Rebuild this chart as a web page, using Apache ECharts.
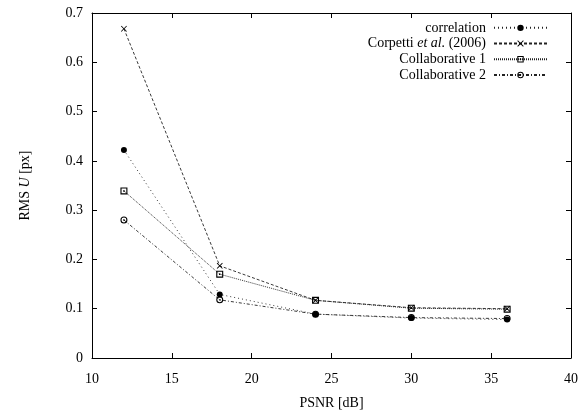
<!DOCTYPE html>
<html>
<head>
<meta charset="utf-8">
<script src="https://cdn.jsdelivr.net/npm/echarts@6/dist/echarts.min.js"></script>
<style>html,body{margin:0;padding:0;background:#fff;}#c{width:579px;height:411px;}</style>
</head>
<body>
<div id="c"></div>
<script>
const psnr = [12, 18, 24, 30, 36];
const correlation = [0.422, 0.129, 0.089, 0.081, 0.078];
const corpetti = [0.668, 0.187, 0.117, 0.102, 0.100];
const collab1 = [0.339, 0.170, 0.117, 0.101, 0.099];
const collab2 = [0.280, 0.118, 0.089, 0.082, 0.080];
const seriesNames = ['correlation', 'Corpetti et al. (2006)', 'Collaborative 1', 'Collaborative 2'];
const xTicks = [10, 15, 20, 25, 30, 35, 40];
const yTicks = [0, 0.1, 0.2, 0.3, 0.4, 0.5, 0.6, 0.7];

const FONT = '"Liberation Serif", "DejaVu Serif", serif';
const FS = 14;
const pairs = ys => psnr.map((x, i) => [x, ys[i]]);

const SYM_X = 'path://M0 1 L1 0 L5 4 L9 0 L10 1 L6 5 L10 9 L9 10 L5 6 L1 10 L0 9 L4 5 Z';
const SYM_SQ = 'path://M0 0 L10 0 L10 10 L0 10 Z M1.6 1.6 L1.6 8.4 L8.4 8.4 L8.4 1.6 Z M3.9 3.9 L6.1 3.9 L6.1 6.1 L3.9 6.1 Z';
const SYM_CI = 'path://M5 0 A5 5 0 0 1 10 5 A5 5 0 0 1 5 10 A5 5 0 0 1 0 5 A5 5 0 0 1 5 0 Z M5 1.5 A3.5 3.5 0 0 0 1.5 5 A3.5 3.5 0 0 0 5 8.5 A3.5 3.5 0 0 0 8.5 5 A3.5 3.5 0 0 0 5 1.5 Z M4 4 L6 4 L6 6 L4 6 Z';

const axisLine = {show: true, onZero: false, lineStyle: {color: '#000', width: 1}};
const tick = {show: true, inside: true, length: 5, lineStyle: {color: '#000', width: 1}};
const lbl = {color: '#000', fontFamily: FONT, fontSize: FS};

function mkSeries(name, ys, symbol, size, dash) {
  return {
    name: name, type: 'line', data: pairs(ys), xAxisIndex: 0, yAxisIndex: 0,
    symbol: symbol, symbolSize: size, showSymbol: true,
    lineStyle: {color: '#222', width: 0.9, type: dash},
    itemStyle: {color: '#000'},
    emphasis: {disabled: true},
    animation: false
  };
}

const chart = echarts.init(document.getElementById('c'), null, {renderer: 'canvas'});
chart.setOption({
  backgroundColor: '#fff',
  animation: false,
  grid: {left: 92, right: 8, top: 13, bottom: 53, containLabel: false, outerBoundsMode: 'none'},
  legend: {
    orient: 'vertical', right: 31, top: 20, align: 'right', padding: 0,
    itemWidth: 53, itemHeight: 8, itemGap: 0,
    textStyle: {color: '#000', fontFamily: FONT, fontSize: FS, lineHeight: 15.7, padding: [0, 3, 0, 0],
      rich: {i: {fontStyle: 'italic', fontFamily: FONT, fontSize: FS, lineHeight: 15.7}, n: {fontFamily: FONT, fontSize: FS, lineHeight: 15.7}}},
    formatter: name => name === 'Corpetti et al. (2006)' ? '{n|Corpetti }{i|et al.}{n| (2006)}' : name,
    data: seriesNames
  },
  xAxis: [
    {type: 'value', min: xTicks[0], max: xTicks[xTicks.length - 1], interval: 5, position: 'bottom',
     name: 'PSNR [dB]', nameLocation: 'middle', nameGap: 38,
     nameTextStyle: {color: '#000', fontFamily: FONT, fontSize: FS},
     axisLine: axisLine, axisTick: tick, splitLine: {show: false},
     axisLabel: Object.assign({margin: 14}, lbl)},
    {type: 'value', min: xTicks[0], max: xTicks[xTicks.length - 1], interval: 5, position: 'top',
     axisLine: axisLine, axisTick: tick, splitLine: {show: false}, axisLabel: {show: false}}
  ],
  yAxis: [
    {type: 'value', min: yTicks[0], max: yTicks[yTicks.length - 1], interval: 0.1, position: 'left',
     name: '{a|RMS }{b|U}{a| [px]}', nameLocation: 'middle', nameGap: 60, nameRotate: 90,
     nameTextStyle: {color: '#000', fontFamily: FONT, fontSize: FS,
       rich: {a: {fontFamily: FONT, fontSize: FS, color: '#000'}, b: {fontFamily: FONT, fontSize: FS, fontStyle: 'italic', color: '#000'}}},
     axisLine: axisLine, axisTick: tick, splitLine: {show: false},
     axisLabel: Object.assign({margin: 9, formatter: v => String(Math.round(v * 10) / 10)}, lbl)},
    {type: 'value', min: yTicks[0], max: yTicks[yTicks.length - 1], interval: 0.1, position: 'right',
     axisLine: axisLine, axisTick: tick, splitLine: {show: false}, axisLabel: {show: false}}
  ],
  series: [
    mkSeries(seriesNames[0], correlation, 'circle', 6, [1, 3]),
    mkSeries(seriesNames[1], corpetti, SYM_X, 6, [3, 2]),
    mkSeries(seriesNames[2], collab1, SYM_SQ, 7, [1, 1]),
    mkSeries(seriesNames[3], collab2, SYM_CI, 7, [3, 2, 1, 2])
  ]
});
</script>
</body>
</html>
